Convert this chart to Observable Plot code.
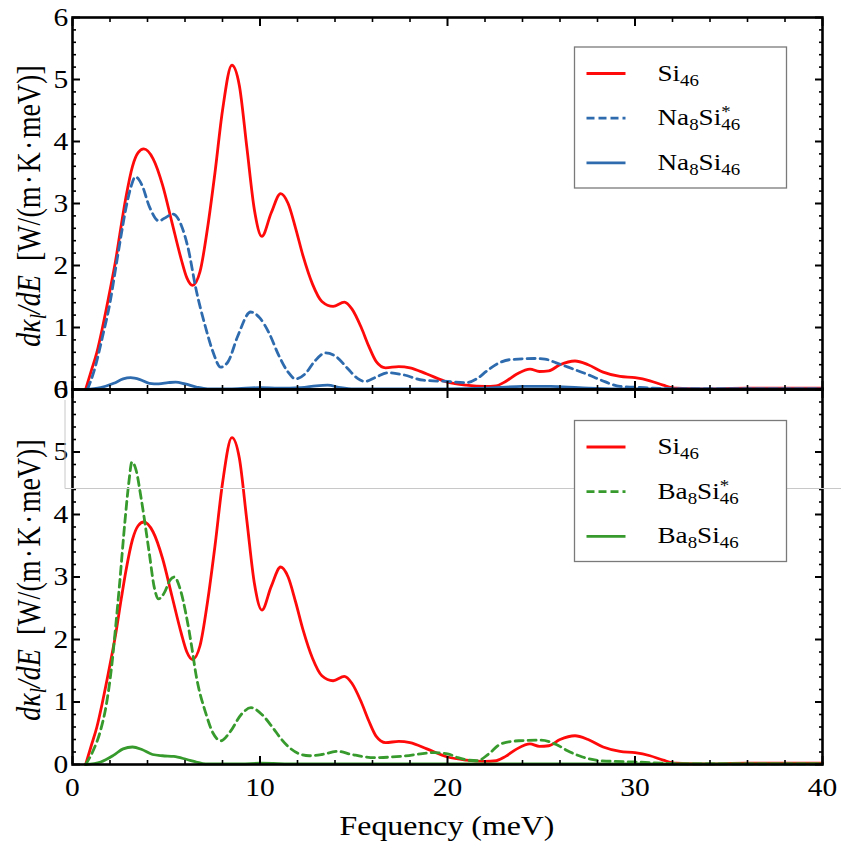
<!DOCTYPE html>
<html><head><meta charset="utf-8">
<script src="https://cdn.jsdelivr.net/npm/d3@7"></script>
<script src="https://cdn.jsdelivr.net/npm/@observablehq/plot@0.6"></script>
<style>
body{margin:0;background:#fff}
#wrap{position:relative;width:841px;height:847px;overflow:hidden}
#wrap svg{position:absolute;left:0;overflow:visible}
</style>
</head><body><div id="wrap"></div>
<script>
// ---------- data (energy in meV, dκ/dE in W/(m·K·meV)) ----------
const si46 = [[0.7,0],[1.0,0.3],[1.3,0.6],[1.6,1.0],[2.0,1.6],[2.3,2.08],[2.6,2.65],[2.85,3.1],[3.2,3.6],[3.5,3.82],[3.8,3.88],[4.3,3.72],[4.8,3.3],[5.3,2.7],[5.8,2.1],[6.1,1.8],[6.4,1.68],[6.8,1.9],[7.2,2.6],[7.6,3.5],[8.0,4.5],[8.5,5.23],[8.9,4.9],[9.3,3.9],[9.7,2.9],[10.1,2.47],[10.6,2.85],[11.1,3.16],[11.5,3.0],[11.9,2.6],[12.3,2.15],[12.8,1.7],[13.3,1.42],[13.9,1.34],[14.5,1.41],[14.9,1.3],[15.4,1.0],[15.8,0.7],[16.2,0.45],[16.7,0.35],[17.4,0.37],[18.0,0.35],[18.9,0.25],[20.0,0.12],[21.0,0.07],[22.0,0.05],[22.6,0.06],[23.1,0.13],[23.7,0.25],[24.4,0.33],[24.9,0.29],[25.4,0.3],[26.0,0.4],[26.8,0.46],[27.5,0.4],[28.3,0.28],[29.2,0.21],[30.0,0.19],[30.8,0.14],[31.5,0.07],[32.2,0.02],[33.5,0.01],[36,0.02],[40,0.02]];
const na8si46Star = [[0.8,0],[1.2,0.35],[1.6,0.85],[2.0,1.4],[2.3,1.95],[2.6,2.5],[2.9,3.0],[3.15,3.3],[3.35,3.43],[3.7,3.3],[4.1,2.95],[4.6,2.72],[5.0,2.78],[5.35,2.83],[5.8,2.65],[6.15,2.3],[6.6,1.6],[7.1,1.0],[7.5,0.6],[7.9,0.36],[8.3,0.45],[8.8,0.85],[9.5,1.25],[10.0,1.15],[10.5,0.9],[11.0,0.55],[11.5,0.28],[11.9,0.17],[12.4,0.25],[12.9,0.45],[13.5,0.59],[14.1,0.52],[14.7,0.33],[15.2,0.18],[15.6,0.13],[16.2,0.2],[16.8,0.27],[17.6,0.24],[18.7,0.15],[20.0,0.13],[21.0,0.11],[21.6,0.18],[22.1,0.3],[22.7,0.42],[23.3,0.48],[24.6,0.5],[25.2,0.49],[25.8,0.43],[26.7,0.33],[27.5,0.24],[28.2,0.15],[29.2,0.05],[30.5,0.03],[32,0.01],[35,0.01],[40,0.01]];
const na8si46 = [[0.7,0],[1.5,0.03],[2.2,0.1],[2.7,0.17],[3.1,0.19],[3.6,0.16],[4.1,0.1],[4.6,0.09],[5.1,0.11],[5.5,0.12],[6.0,0.09],[6.6,0.04],[7.2,0.01],[8.5,0.01],[10.0,0.03],[11.0,0.02],[12.2,0.03],[13.0,0.06],[13.6,0.07],[14.3,0.03],[15,0.01],[17,0.01],[20,0.01],[22,0.02],[24,0.05],[25.5,0.05],[27,0.03],[29,0.01],[40,0.01]];
const ba8si46Star = [[0.7,0],[1.1,0.22],[1.5,0.55],[1.8,0.95],[2.1,1.6],[2.3,2.2],[2.5,2.85],[2.8,3.9],[3.0,4.5],[3.17,4.84],[3.4,4.7],[3.65,4.28],[4.1,3.37],[4.35,2.85],[4.59,2.65],[4.9,2.75],[5.2,2.95],[5.43,3.0],[5.75,2.8],[6.05,2.41],[6.35,1.9],[6.58,1.45],[7.12,0.81],[7.5,0.5],[7.92,0.38],[8.4,0.52],[9.0,0.8],[9.52,0.91],[10.1,0.8],[10.68,0.59],[11.1,0.42],[11.57,0.27],[12.1,0.17],[12.63,0.14],[13.3,0.16],[14.13,0.21],[14.9,0.16],[16.09,0.11],[17.5,0.13],[19.3,0.19],[20.0,0.17],[20.55,0.11],[21.1,0.07],[21.6,0.06],[22.2,0.17],[22.85,0.33],[23.8,0.38],[24.99,0.39],[25.8,0.32],[26.4,0.22],[27.2,0.12],[28.2,0.06],[30.0,0.04],[32.7,0.01],[35,0.01],[40,0.01]];
const ba8si46 = [[0.7,0],[1.5,0.04],[2.2,0.15],[2.7,0.25],[3.2,0.28],[3.7,0.24],[4.27,0.16],[4.8,0.14],[5.4,0.13],[6.1,0.08],[6.6,0.04],[7.1,0.01],[9,0.01],[10,0.02],[12,0.01],[15,0.01],[20,0.01],[25,0.01],[30,0.01],[40,0.01]];

const xMajorTicks = [0,10,20,30,40];
const xMinorTicks = [2,4,6,8,12,14,16,18,22,24,26,28,32,34,36,38];
const yMajorTicks = [0,1,2,3,4,5,6];
const yMinorTicks = [0.2,0.4,0.6,0.8,1.2,1.4,1.6,1.8,2.2,2.4,2.6,2.8,3.2,3.4,3.6,3.8,4.2,4.4,4.6,4.8,5.2,5.4,5.6,5.8];

const RED = "#ff0a0a", BLUE = "#2d6bae", GREEN = "#369a2c";
const FONT = '"Liberation Serif", "Times New Roman", monospace';
const STRETCH = 1.18; // the original's lettering is slightly widened

(function () {
function panel(series, {height, marginTop, marginBottom, xLabels}) {
  const lines = series.map(s => Plot.line(s.data, {
    x: d => d[0], y: d => d[1], stroke: s.color, strokeWidth: 2.8,
    strokeDasharray: s.dash ? "8,5" : null, curve: "monotone-x"
  }));
  const tickOpts = {fill: "none", label: null, stroke: "black"};
  return Plot.plot({
    width: 841, height, marginLeft: 72, marginRight: 19, marginTop, marginBottom,
    style: {background: "transparent", overflow: "visible"},
    x: {domain: [0, 40]},
    y: {domain: [0, 6]},
    marks: [
      ...lines,
      Plot.axisX({...tickOpts, ticks: xMajorTicks, anchor: "bottom", tickSize: -8, strokeWidth: 2}),
      Plot.axisX({...tickOpts, ticks: xMinorTicks, anchor: "bottom", tickSize: -4, strokeWidth: 1.6}),
      Plot.axisX({...tickOpts, ticks: xMajorTicks, anchor: "top", tickSize: -8, strokeWidth: 2}),
      Plot.axisX({...tickOpts, ticks: xMinorTicks, anchor: "top", tickSize: -4, strokeWidth: 1.6}),
      Plot.axisY({...tickOpts, ticks: yMajorTicks, anchor: "left", tickSize: -8, strokeWidth: 2}),
      Plot.axisY({...tickOpts, ticks: yMinorTicks, anchor: "left", tickSize: -4, strokeWidth: 1.6}),
      Plot.axisY({...tickOpts, ticks: yMajorTicks, anchor: "right", tickSize: -8, strokeWidth: 2}),
      Plot.axisY({...tickOpts, ticks: yMinorTicks, anchor: "right", tickSize: -4, strokeWidth: 1.6}),
      Plot.axisY({ticks: yMajorTicks, anchor: "left", tickSize: 0, tickPadding: 5, fontSize: 25, label: null, tickFormat: d => String(d), fill: "black"}),
      xLabels ? Plot.axisX({ticks: xMajorTicks, anchor: "bottom", tickSize: 0, tickPadding: 14, fontSize: 25, label: null, tickFormat: d => String(d), fill: "black"}) : null,
      Plot.frame({stroke: "black", strokeWidth: 2.6})
    ]
  });
}

const wrap = document.getElementById("wrap");
const topPlot = panel([
  {data: si46, color: RED},
  {data: na8si46Star, color: BLUE, dash: true},
  {data: na8si46, color: BLUE}
], {height: 394, marginTop: 17, marginBottom: 5, xLabels: false});
topPlot.style.top = "0px";
wrap.appendChild(topPlot);

const bottomPlot = panel([
  {data: si46, color: RED},
  {data: ba8si46Star, color: GREEN, dash: true},
  {data: ba8si46, color: GREEN}
], {height: 475, marginTop: 17, marginBottom: 83, xLabels: true});
bottomPlot.style.top = "372px";
wrap.appendChild(bottomPlot);

// serif lettering, widened around each label's anchor
for (const svg of [topPlot, bottomPlot]) {
  const sr = svg.getBoundingClientRect();
  svg.querySelectorAll("text").forEach(t => {
    t.setAttribute("font-family", FONT);
    t.style.fontFamily = FONT;
  });
  svg.querySelectorAll("text").forEach(t => {
    const r = t.getBoundingClientRect();
    const anchor = t.closest("[text-anchor]")?.getAttribute("text-anchor") || "middle";
    const cx = (anchor === "end" ? r.right : r.left + r.width / 2) - sr.left;
    const g = document.createElementNS("http://www.w3.org/2000/svg", "g");
    g.setAttribute("transform", `translate(${cx},0) scale(${STRETCH},1) translate(${-cx},0)`);
    t.parentNode.insertBefore(g, t);
    g.appendChild(t);
  });
}

// ---------- overlay: labels, legends ----------
const ov = d3.select(wrap).append("svg").attr("width", 841).attr("height", 847).style("top", "0px");
const txt = (sel) => sel.append("text").attr("font-family", FONT).style("font-family", FONT).attr("fill", "black");

// faint gray guide line present in the original picture
ov.append("path").attr("d", "M65,400V488.5H841").attr("fill", "none").attr("stroke", "#c8c8c8").attr("stroke-width", 1);

function yLabel(cy) {
  const t = txt(ov).attr("transform", `translate(40,${cy}) scale(${STRETCH},1) rotate(-90)`)
    .attr("text-anchor", "middle").attr("font-size", 28);
  t.append("tspan").attr("font-style", "italic").text("dκ");
  t.append("tspan").attr("font-style", "italic").attr("font-size", 19).attr("dy", 5).text("l");
  t.append("tspan").attr("font-style", "italic").attr("dy", -5).text("/dE");
  t.append("tspan").text("\u2002[W/(m\u200a·\u200aK\u200a·\u200ameV)]");
}
yLabel(206);
yLabel(580);

txt(ov).attr("transform", `translate(447,835) scale(${STRETCH},1)`).attr("text-anchor", "middle")
  .attr("font-size", 27).text("Fequency (meV)");

function legend(x0, y0, items) {
  const g = ov.append("g");
  g.append("rect").attr("x", x0).attr("y", y0).attr("width", 212).attr("height", 141)
    .attr("fill", "white").attr("stroke", "#7a7a7a").attr("stroke-width", 1.3);
  items.forEach((it, i) => {
    const cy = y0 + 26.5 + i * 44.7;
    g.append("line").attr("x1", x0 + 12).attr("x2", x0 + 51).attr("y1", cy).attr("y2", cy)
      .attr("stroke", it.color).attr("stroke-width", 2.8)
      .attr("stroke-dasharray", it.dash ? "8,4" : null);
    const t = txt(g).attr("transform", `translate(${x0 + 83},${cy + 7}) scale(${STRETCH},1)`).attr("font-size", 23);
    it.parts.forEach(p => {
      const s = t.append("tspan").text(p.t);
      if (p.sub || p.sup) s.attr("font-size", 16);
      if (p.dy) s.attr("dy", p.dy);
      if (p.dx) s.attr("dx", p.dx);
    });
  });
}
const siParts = [{t: "Si"}, {t: "46", sub: true, dy: 5}];
const starParts = el => [{t: el}, {t: "8", sub: true, dy: 5}, {t: "Si", dy: -5}, {t: "*", sup: true, dy: -8}, {t: "46", sub: true, dy: 13, dx: -8}];
const plainParts = el => [{t: el}, {t: "8", sub: true, dy: 5}, {t: "Si", dy: -5}, {t: "46", sub: true, dy: 5}];

legend(574.5, 47, [
  {color: RED, parts: siParts},
  {color: BLUE, dash: true, parts: starParts("Na")},
  {color: BLUE, parts: plainParts("Na")}
]);
legend(574.5, 420.5, [
  {color: RED, parts: siParts},
  {color: GREEN, dash: true, parts: starParts("Ba")},
  {color: GREEN, parts: plainParts("Ba")}
]);
})();
</script></body></html>
